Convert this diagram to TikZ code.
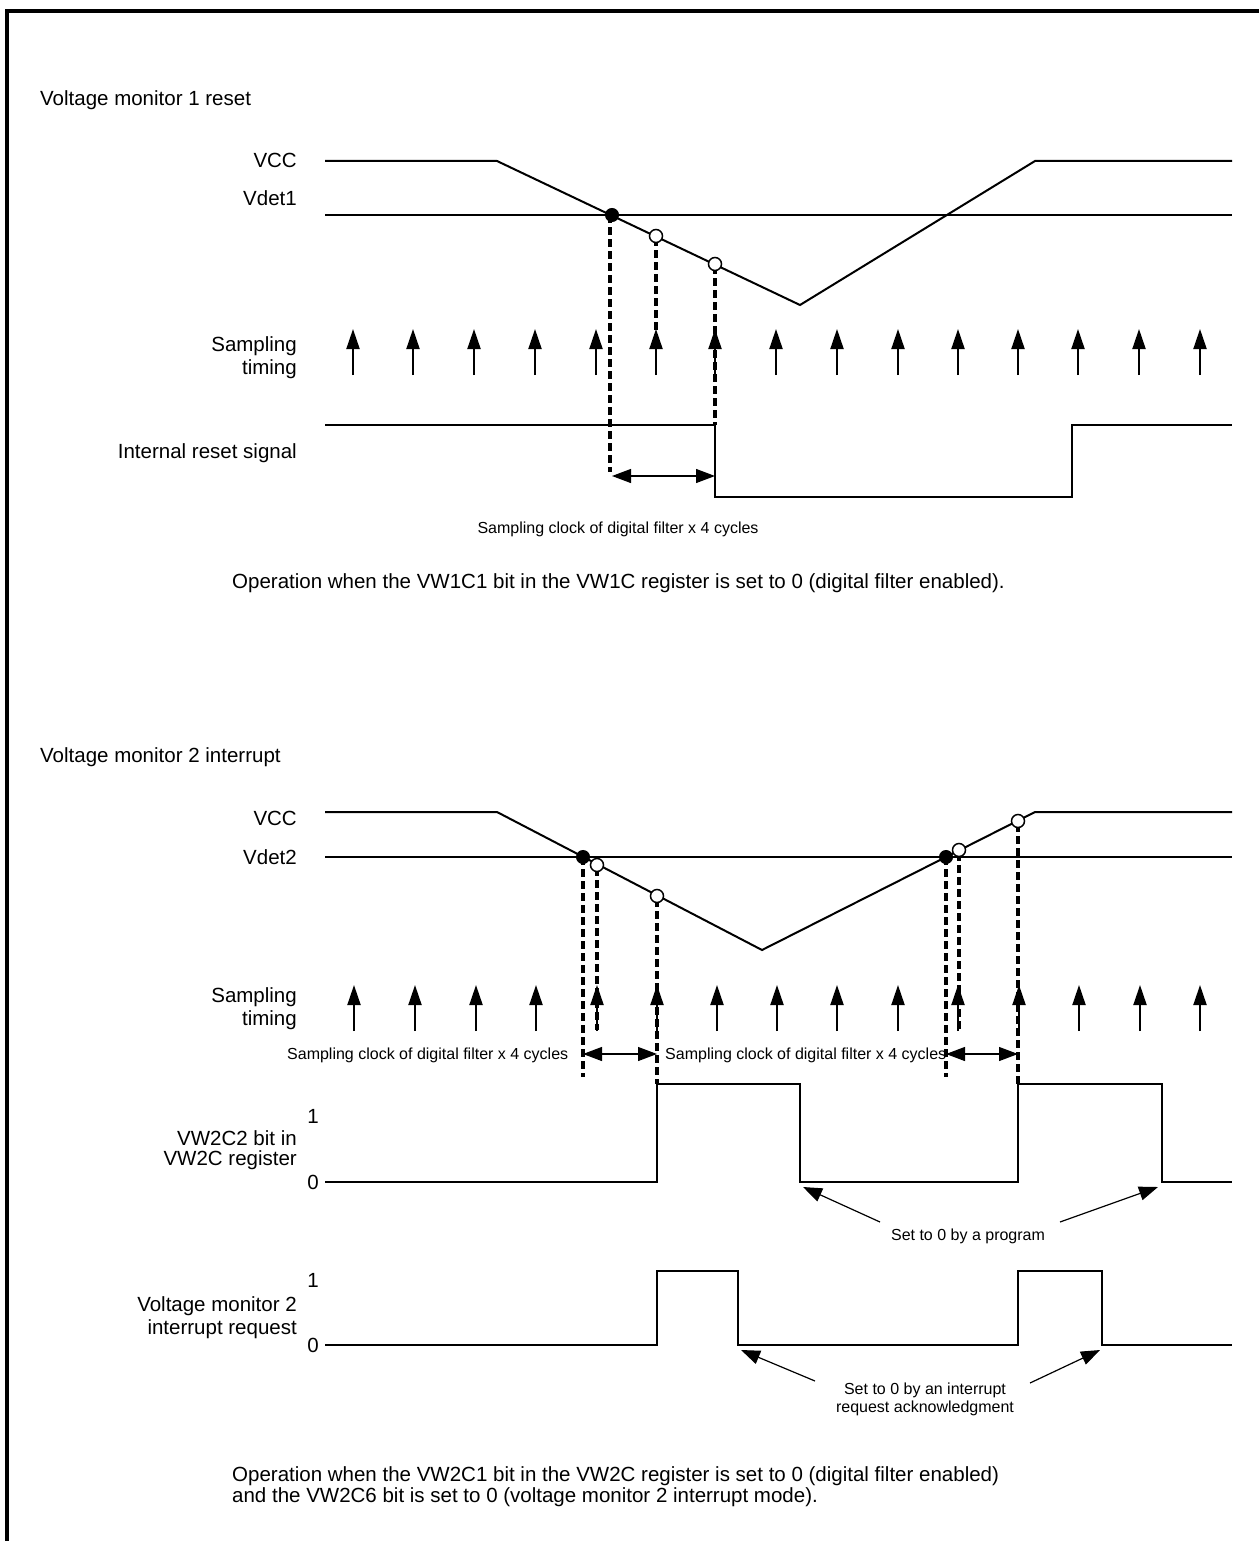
\documentclass[tikz,border=0pt]{standalone}
\usepackage{fontspec}
\setmainfont{Liberation Sans}
\usetikzlibrary{arrows.meta}
\begin{document}
\begin{tikzpicture}[x=1pt,y=-1pt,
  lbl/.style={font=\fontsize{20.5}{21}\selectfont, inner sep=0pt},
  rl/.style={lbl, anchor=east},
  small/.style={font=\fontsize{16}{18}\selectfont, inner sep=0pt},
  sig/.style={line width=2pt, line join=miter},
  ref/.style={line width=1.8pt},
  dsh/.style={line width=3.2pt, dash pattern=on 8pt off 4pt},
  samp/.style={line width=2pt, -{Triangle[length=20pt,width=13pt]}},
  dbl/.style={line width=1.2pt, {Triangle[length=19pt,width=14pt]}-{Triangle[length=19pt,width=14pt]}},
  call/.style={line width=1.2pt, -{Triangle[length=19pt,width=14pt]}},
  fdot/.style={circle, fill=black, draw=black, line width=1pt, minimum size=13pt, inner sep=0pt},
  odot/.style={circle, fill=white, draw=black, line width=1.5pt, minimum size=13pt, inner sep=0pt}
]
\useasboundingbox (0,0) rectangle (1259,1541);
% frame
\draw[line width=3.5pt] (7,1541) -- (7,11) -- (1259,11);

% ===== Section 1 =====
\node[lbl, anchor=west] (t1) at (40,100) {Voltage monitor 1 reset};
\node[rl] (vcc1) at (297,160) {VCC};
\node[rl] (vdet1) at (297,198) {Vdet1};
\node[rl] (s1a) at (297,346) {Sampling};
\node[rl] (s1b) at (297,369) {timing};
\node[rl] (irs) at (297,453) {Internal reset signal};

\draw[ref] (325,215) -- (1232,215);
\draw[sig] (325,161) -- (497,161) -- (800,305) -- (1035,161) -- (1232,161);

% dashed lines
\draw[dsh] (610,215) -- (610,472);
\draw[dsh] (656,238) -- (656,345);
\draw[dsh] (715,266) -- (715,425);

\node[fdot] (d1) at (612,215) {};
\node[odot] (o1) at (656,236) {};
\node[odot] (o2) at (715,264) {};

\foreach \x in {353,413,474,535,596,656,715,776,837,898,958,1018,1078,1139,1200}
  \draw[samp] (\x,375) -- (\x,329);

\draw[sig] (325,425) -- (715,425) -- (715,497) -- (1072,497) -- (1072,425) -- (1232,425);
\coordinate (a1l) at (612,476);
\coordinate (a1r) at (715,476);
\draw[dbl] (a1l) -- (a1r);
\node[small] (c1) at (618,529) {Sampling clock of digital filter x 4 cycles};
\node[lbl, anchor=west] (op1) at (232,583) {Operation when the VW1C1 bit in the VW1C register is set to 0 (digital filter enabled).};

% ===== Section 2 =====
\node[lbl, anchor=west] (t2) at (40,757) {Voltage monitor 2 interrupt};
\node[rl] (vcc2) at (297,818) {VCC};
\node[rl] (vdet2) at (297,857) {Vdet2};
\node[rl] (s2a) at (297,997) {Sampling};
\node[rl] (s2b) at (297,1020) {timing};

\draw[ref] (325,857) -- (1232,857);
\draw[sig] (325,812) -- (497,812) -- (762,950) -- (1035,812) -- (1232,812);

\draw[dsh] (583,857) -- (583,1077);
\draw[dsh] (597,868) -- (597,1030);
\draw[dsh] (657,899) -- (657,1084);
\draw[dsh] (946,857) -- (946,1077);
\draw[dsh] (959,853) -- (959,1030);
\draw[dsh] (1018,824) -- (1018,1084);

\node[fdot] (d2) at (583,857) {};
\node[odot] (o3) at (597,865) {};
\node[odot] (o4) at (657,896) {};
\node[fdot] (d3) at (946,857) {};
\node[odot] (o5) at (959,850) {};
\node[odot] (o6) at (1018,821) {};

\foreach \x in {354,415,476,536,597,657,717,777,837,898,958,1019,1079,1140,1200}
  \draw[samp] (\x,1031) -- (\x,985);

\coordinate (a2l) at (583,1054);
\coordinate (a2r) at (657,1054);
\coordinate (a3l) at (946,1054);
\coordinate (a3r) at (1018,1054);
\draw[dbl] (a2l) -- (a2r);
\draw[dbl] (a3l) -- (a3r);
\node[small, anchor=west] (c2) at (287,1055) {Sampling clock of digital filter x 4 cycles};
\node[small, anchor=west] (c3) at (665,1055) {Sampling clock of digital filter x 4 cycles};

% VW2C2
\node[lbl] (one1) at (313,1116) {1};
\node[lbl] (zero1) at (313,1182) {0};
\node[rl] (vw1) at (297,1138) {VW2C2 bit in};
\node[rl] (vw2) at (297,1160) {VW2C register};
\draw[sig] (325,1182) -- (657,1182) -- (657,1084) -- (800,1084) -- (800,1182) -- (1018,1182) -- (1018,1084) -- (1162,1084) -- (1162,1182) -- (1232,1182);

\node[small] (p1) at (968,1236) {Set to 0 by a program};
\coordinate (p1l) at (880,1222);
\coordinate (p1lt) at (803,1187);
\coordinate (p1r) at (1060,1222);
\coordinate (p1rt) at (1158,1187);
\draw[call] (p1l) -- (p1lt);
\draw[call] (p1r) -- (p1rt);

% interrupt request
\node[lbl] (one2) at (313,1280) {1};
\node[lbl] (zero2) at (313,1345) {0};
\node[rl] (ir1) at (297,1306) {Voltage monitor 2};
\node[rl] (ir2) at (297,1329) {interrupt request};
\draw[sig] (325,1345) -- (657,1345) -- (657,1271) -- (738,1271) -- (738,1345) -- (1018,1345) -- (1018,1271) -- (1102,1271) -- (1102,1345) -- (1232,1345);

\node[small, align=center] (p2) at (925,1399) {Set to 0 by an interrupt\\request acknowledgment};
\coordinate (p2l) at (815,1381);
\coordinate (p2lt) at (741,1350);
\coordinate (p2r) at (1030,1383);
\coordinate (p2rt) at (1100,1350);
\draw[call] (p2l) -- (p2lt);
\draw[call] (p2r) -- (p2rt);

\node[lbl, anchor=north west, align=left] (op2) at (232,1466) {Operation when the VW2C1 bit in the VW2C register is set to 0 (digital filter enabled)\\and the VW2C6 bit is set to 0 (voltage monitor 2 interrupt mode).};
\end{tikzpicture}
\end{document}
